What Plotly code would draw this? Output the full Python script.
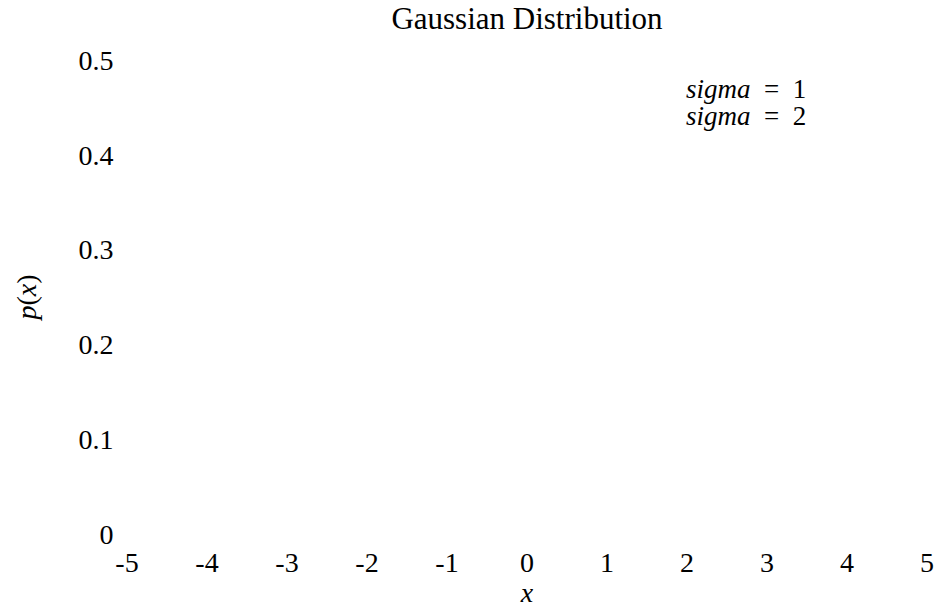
import plotly.graph_objects as go

# ---- data (text content) ----
title_text = "Gaussian Distribution"
series_names = ["sigma = 1", "sigma = 2"]
x_tick_vals = [-5, -4, -3, -2, -1, 0, 1, 2, 3, 4, 5]
x_tick_text = ["-5", "-4", "-3", "-2", "-1", "0", "1", "2", "3", "4", "5"]
y_tick_vals = [0, 0.1, 0.2, 0.3, 0.4, 0.5]
y_tick_text = ["0", "0.1", "0.2", "0.3", "0.4", "0.5"]
x_range = [-5, 5]
y_range = [0, 0.5]

FONT = "Liberation Serif"

fig = go.Figure()
# The reference shows no visible curves; the series exist only as legend entries.
for name in series_names:
    fig.add_trace(go.Scatter(x=[], y=[], mode="lines", name=name, showlegend=False,
                             line=dict(color="rgba(0,0,0,0)")))

def math_label(name):
    word, rest = name.split(" ", 1)
    rest = rest.replace(" ", "\u2002")
    return f"<i>{word}</i>\u2002{rest}"

# legend rows (page px centers 89 and 116), plot spans 474 px vertically
legend_y = [(534 - 89) / 474, (534 - 116) / 474]
for name, yy in zip(series_names, legend_y):
    fig.add_annotation(text=math_label(name), xref="paper", yref="paper",
                       x=(684 - 127) / 800, y=yy, xanchor="left", yanchor="middle",
                       showarrow=False, font=dict(family=FONT, size=27, color="black"))

fig.update_layout(
    width=939, height=608,
    margin=dict(l=127, r=12, t=60, b=74),
    paper_bgcolor="white", plot_bgcolor="white",
    font=dict(family=FONT, size=28, color="black"),
    title=dict(text=title_text, x=0.5, xref="paper", xanchor="center",
               y=1 - 18/608, yref="container", yanchor="middle",
               font=dict(family=FONT, size=31, color="black"), automargin=False),
    showlegend=False,
)
fig.update_xaxes(range=x_range, tickmode="array", tickvals=x_tick_vals, ticktext=x_tick_text,
                 showgrid=False, zeroline=False, showline=False, automargin=False,
                 ticks="outside", ticklen=3, tickcolor="rgba(0,0,0,0)",
                 title=dict(text="<i>x</i>", standoff=4, font=dict(family=FONT, size=28)))
fig.update_yaxes(range=y_range, tickmode="array", tickvals=y_tick_vals, ticktext=y_tick_text,
                 showgrid=False, zeroline=False, showline=False, automargin=False,
                 ticks="outside", ticklen=7, tickcolor="rgba(0,0,0,0)",
                 title=dict(text="<i>p</i>(<i>x</i>)", standoff=33, font=dict(family=FONT, size=28)))

fig.write_html(
    "out.html",
    config={"displayModeBar": False},
    post_script="document.body.style.margin='0';document.body.style.overflow='hidden';",
)
